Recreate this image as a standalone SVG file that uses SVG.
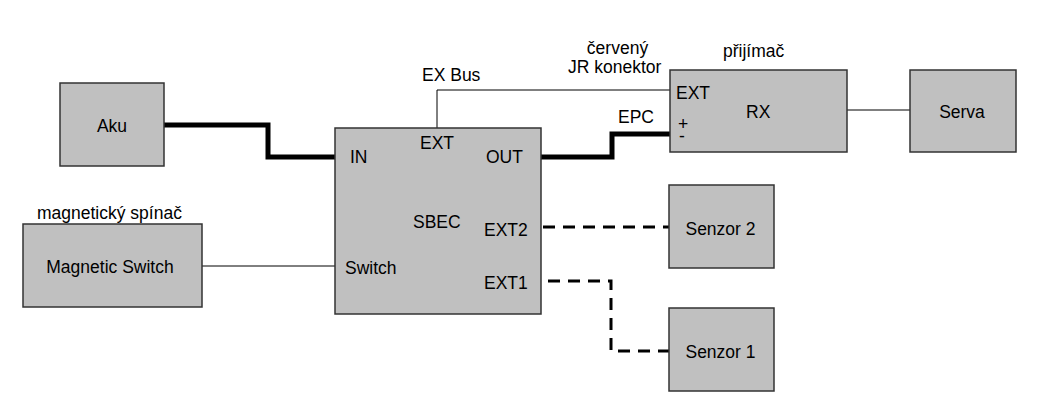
<svg xmlns="http://www.w3.org/2000/svg" width="1037" height="414" viewBox="0 0 1037 414">
<style>
.box{fill:#c0c0c0;stroke:#333;stroke-width:1.5}
text{font-family:"Liberation Sans",Arial,sans-serif;font-size:17.5px;fill:#000}
.thin{fill:none;stroke:#000;stroke-width:1}
.thick{fill:none;stroke:#000;stroke-width:5}
.dash{fill:none;stroke:#000;stroke-width:3;stroke-dasharray:12 8}
</style>
<rect width="1037" height="414" fill="#fff"/>
<g id="connectors">
<polyline class="thick" points="164,125 268,125 268,157 335,157"/>
<polyline class="thick" points="541,157 612,157 612,134 670,134"/>
<polyline class="thin" points="437,128 437,90 670,90"/>
<line class="thin" x1="847" y1="110" x2="910" y2="110"/>
<line class="thin" x1="202" y1="266" x2="335" y2="266"/>
<line class="dash" x1="543" y1="227" x2="669" y2="227"/>
<polyline class="dash" points="548,281 611,281 611,351 669,351"/>
</g>
<g id="aku"><rect class="box" x="60" y="83" width="104" height="83"/><text x="112" y="132" text-anchor="middle">Aku</text></g>
<g id="sbec"><rect class="box" x="335" y="128" width="206" height="186"/>
<text x="350" y="163">IN</text><text x="420" y="149">EXT</text><text x="486" y="163">OUT</text>
<text x="413" y="228">SBEC</text><text x="484" y="236">EXT2</text><text x="484" y="289">EXT1</text><text x="345" y="274">Switch</text></g>
<g id="rx"><rect class="box" x="670" y="70" width="177" height="82"/>
<text x="676" y="99">EXT</text><text x="746" y="118">RX</text><text x="678" y="130">+<tspan x="679" y="141.5">-</tspan></text></g>
<g id="serva"><rect class="box" x="910" y="70" width="106" height="82"/><text x="962" y="118" text-anchor="middle">Serva</text></g>
<g id="magswitch"><rect class="box" x="23" y="224" width="179" height="83"/><text x="110" y="273" text-anchor="middle">Magnetic Switch</text></g>
<g id="senzor2"><rect class="box" x="669" y="185" width="105" height="83"/><text x="720.5" y="235" text-anchor="middle">Senzor 2</text></g>
<g id="senzor1"><rect class="box" x="669" y="308" width="105" height="83"/><text x="720.5" y="358" text-anchor="middle">Senzor 1</text></g>
<g id="labels">
<text x="422" y="81">EX Bus</text>
<text x="617.5" y="54" text-anchor="middle">červený</text>
<text x="568" y="73">JR konektor</text>
<text x="618" y="123">EPC</text>
<text x="723" y="57">přijímač</text>
<text x="37" y="219">magnetický spínač</text>
</g>
</svg>
